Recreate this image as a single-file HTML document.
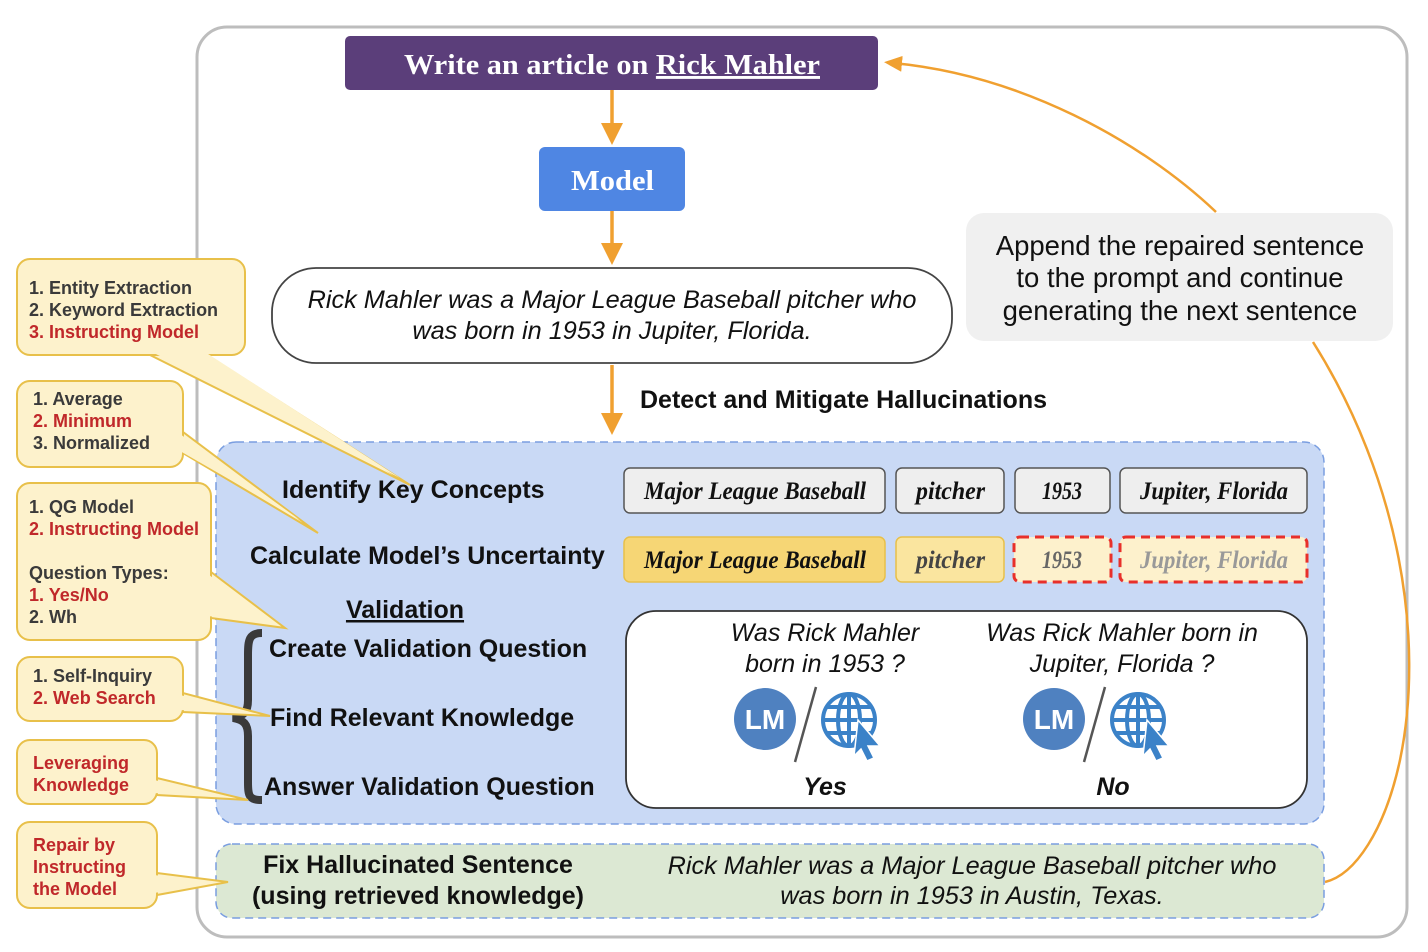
<!DOCTYPE html>
<html><head><meta charset="utf-8"><style>
html,body{margin:0;padding:0;background:#fff;}
svg{display:block;}
.s{font-family:"Liberation Sans",sans-serif;}
.sf{font-family:"Liberation Serif",serif;font-weight:bold;}
.c{font-family:"Liberation Sans",sans-serif;font-weight:bold;font-size:18px;fill:#3a3a3a;}
.r{fill:#c0282a;}
</style></head><body>
<svg width="1428" height="952" viewBox="0 0 1428 952" xmlns="http://www.w3.org/2000/svg">
<defs>
<marker id="ah" markerWidth="22" markerHeight="22" refX="11" refY="11" orient="auto" markerUnits="userSpaceOnUse"><path d="M0,0 L22,11 L0,22 z" fill="#f0a030"/></marker>
<marker id="ah2" markerWidth="18" markerHeight="16" refX="9" refY="8" orient="auto" markerUnits="userSpaceOnUse"><path d="M0,0 L18,8 L0,16 z" fill="#f0a030"/></marker>
</defs>
<rect x="197" y="27" width="1210" height="910" rx="30" fill="#fff" stroke="#bdbdbd" stroke-width="3"/>

<rect x="345" y="36" width="533" height="54" rx="5" fill="#5b3e7a"/>
<text x="404" y="74" class="sf" font-size="29" fill="#fff" textLength="416" lengthAdjust="spacingAndGlyphs">Write an article on <tspan text-decoration="underline">Rick Mahler</tspan></text>
<line x1="612" y1="90" x2="612" y2="134" stroke="#f0a030" stroke-width="3.5" marker-end="url(#ah)"/>

<rect x="539" y="147" width="146" height="64" rx="6" fill="#4f86e3"/>
<text x="571" y="190" class="sf" font-size="29" fill="#fff" textLength="83" lengthAdjust="spacingAndGlyphs">Model</text>
<line x1="612" y1="211" x2="612" y2="254" stroke="#f0a030" stroke-width="3.5" marker-end="url(#ah)"/>

<rect x="272" y="268" width="680" height="95" rx="44" fill="#fff" stroke="#444" stroke-width="1.8"/>
<text x="612" y="308" text-anchor="middle" class="s" font-size="25.3" font-style="italic" fill="#111">Rick Mahler was a Major League Baseball pitcher who</text>
<text x="612" y="339" text-anchor="middle" class="s" font-size="25.3" font-style="italic" fill="#111">was born in 1953 in Jupiter, Florida.</text>

<line x1="612" y1="365" x2="612" y2="424" stroke="#f0a030" stroke-width="3.5" marker-end="url(#ah)"/>
<text x="640" y="408" class="s" font-size="25" font-weight="bold" fill="#111">Detect and Mitigate Hallucinations</text>

<rect x="966" y="213" width="427" height="128" rx="18" fill="#f0f0f0"/>
<text x="1180" y="255" text-anchor="middle" class="s" font-size="27.5" fill="#111">Append the repaired sentence</text>
<text x="1180" y="287" text-anchor="middle" class="s" font-size="27.5" fill="#111">to the prompt and continue</text>
<text x="1180" y="320" text-anchor="middle" class="s" font-size="27.5" fill="#111">generating the next sentence</text>

<path d="M1216,212 C1140,140 1020,75 893,63" fill="none" stroke="#f0a030" stroke-width="2.5" marker-end="url(#ah2)"/>
<path d="M1313,342 C1400,480 1425,640 1400,760 C1385,830 1355,875 1325,882" fill="none" stroke="#f0a030" stroke-width="2.5"/>

<rect x="216" y="442" width="1108" height="382" rx="20" fill="#c9d9f5" stroke="#7a9ee0" stroke-width="1.5" stroke-dasharray="8,5"/>
<text x="282" y="498" class="s" font-size="25" font-weight="bold" fill="#111">Identify Key Concepts</text>
<text x="250" y="564" class="s" font-size="25" font-weight="bold" fill="#111">Calculate Model’s Uncertainty</text>
<text x="405" y="618" text-anchor="middle" class="s" font-size="25" font-weight="bold" fill="#111" text-decoration="underline">Validation</text>
<text x="269" y="657" class="s" font-size="25" font-weight="bold" fill="#111">Create Validation Question</text>
<text x="270" y="726" class="s" font-size="25" font-weight="bold" fill="#111">Find Relevant Knowledge</text>
<text x="264" y="795" class="s" font-size="25" font-weight="bold" fill="#111">Answer Validation Question</text>
<path d="M262,633 C249,633 248,640 248,655 L248,700 C248,712 244,716 233,718 C244,720 248,724 248,736 L248,782 C248,796 249,800 262,800" fill="none" stroke="#3a3a3a" stroke-width="8"/>

<g fill="#eeeeee" stroke="#555" stroke-width="1.5">
<rect x="624" y="468" width="261" height="45" rx="6"/>
<rect x="896" y="468" width="108" height="45" rx="6"/>
<rect x="1015" y="468" width="95" height="45" rx="6"/>
<rect x="1120" y="468" width="187" height="45" rx="6"/>
</g>
<g class="sf" font-size="25" font-style="italic" fill="#111" lengthAdjust="spacingAndGlyphs">
<text x="644" y="499" textLength="222" lengthAdjust="spacingAndGlyphs">Major League Baseball</text>
<text x="916" y="499" textLength="69" lengthAdjust="spacingAndGlyphs">pitcher</text>
<text x="1042" y="499" textLength="40" lengthAdjust="spacingAndGlyphs">1953</text>
<text x="1140" y="499" textLength="148" lengthAdjust="spacingAndGlyphs">Jupiter, Florida</text>
</g>
<rect x="624" y="537" width="261" height="45" rx="6" fill="#f6d675" stroke="#e8c04a" stroke-width="1.5"/>
<rect x="896" y="537" width="108" height="45" rx="6" fill="#fae59f" stroke="#e8c04a" stroke-width="1.5"/>
<rect x="1014" y="537" width="97" height="45" rx="6" fill="#fdf1cc" stroke="#e8302a" stroke-width="3" stroke-dasharray="9,6"/>
<rect x="1120" y="537" width="187" height="45" rx="6" fill="#fdf1cc" stroke="#e8302a" stroke-width="3" stroke-dasharray="9,6"/>
<g class="sf" font-size="25" font-style="italic">
<text x="644" y="568" fill="#111" textLength="222" lengthAdjust="spacingAndGlyphs">Major League Baseball</text>
<text x="916" y="568" fill="#444" textLength="69" lengthAdjust="spacingAndGlyphs">pitcher</text>
<text x="1042" y="568" fill="#666" textLength="40" lengthAdjust="spacingAndGlyphs">1953</text>
<text x="1140" y="568" fill="#999" textLength="148" lengthAdjust="spacingAndGlyphs">Jupiter, Florida</text>
</g>

<rect x="626" y="611" width="681" height="197" rx="30" fill="#fff" stroke="#333" stroke-width="1.8"/>
<g class="s" font-size="25" font-style="italic" fill="#111" text-anchor="middle">
<text x="825" y="641">Was Rick Mahler</text>
<text x="825" y="672">born in 1953 ?</text>
<text x="1122" y="641">Was Rick Mahler born in</text>
<text x="1122" y="672">Jupiter, Florida ?</text>
<text x="825" y="795" font-weight="bold">Yes</text>
<text x="1113" y="795" font-weight="bold">No</text>
</g>
<g id="ic1">
<circle cx="765" cy="719" r="31" fill="#4f81c0"/>
<text x="765" y="729" text-anchor="middle" class="s" font-size="28" font-weight="bold" fill="#fff">LM</text>
<line x1="816" y1="687" x2="795" y2="762" stroke="#555" stroke-width="2.5"/>
<g fill="none" stroke="#3b82c8" stroke-width="4">
<circle cx="849" cy="720" r="26"/>
<ellipse cx="849" cy="720" rx="11" ry="26"/>
<line x1="823" y1="720" x2="875" y2="720"/>
<line x1="827" y1="707" x2="871" y2="707"/>
<line x1="827" y1="733" x2="871" y2="733"/>
<line x1="849" y1="694" x2="849" y2="746"/>
</g>
<path d="M858,720 L880,746 L868,746 L874,758 L867,761 L861,749 L854,756 z" fill="#3b82c8" stroke="#fff" stroke-width="1.5"/>
</g>
<use href="#ic1" x="289" y="0"/>

<rect x="216" y="844" width="1108" height="74" rx="16" fill="#dce8d3" stroke="#7a9ee0" stroke-width="1.5" stroke-dasharray="8,5"/>
<text x="418" y="873" text-anchor="middle" class="s" font-size="25" font-weight="bold" fill="#111">Fix Hallucinated Sentence</text>
<text x="418" y="904" text-anchor="middle" class="s" font-size="25" font-weight="bold" fill="#111">(using retrieved knowledge)</text>
<text x="972" y="874" text-anchor="middle" class="s" font-size="25.3" font-style="italic" fill="#111">Rick Mahler was a Major League Baseball pitcher who</text>
<text x="972" y="904" text-anchor="middle" class="s" font-size="25.3" font-style="italic" fill="#111">was born in 1953 in Austin, Texas.</text>

<g fill="#fdf2cc" stroke="#e8c04a" stroke-width="2">
<polygon points="150,355 207,355 410,485"/>
<rect x="17" y="259" width="228" height="96" rx="13"/>
<polygon points="183,432 183,453 318,533"/>
<rect x="17" y="381" width="166" height="86" rx="13"/>
<polygon points="211,572 211,618 285,628"/>
<rect x="17" y="483" width="194" height="157" rx="13"/>
<polygon points="183,693 183,712 270,716"/>
<rect x="17" y="657" width="166" height="64" rx="13"/>
<polygon points="157,778 157,795 248,800"/>
<rect x="17" y="740" width="140" height="64" rx="13"/>
<polygon points="157,873 157,895 228,882"/>
<rect x="17" y="822" width="140" height="86" rx="13"/>
</g>
<g fill="#fdf2cc">
<polygon points="152,352 205,352 400,478"/>
<polygon points="180,434 180,451 300,520"/>
<polygon points="208,574 208,616 270,624"/>
<polygon points="180,695 180,710 255,714"/>
<polygon points="154,780 154,793 235,798"/>
<polygon points="154,875 154,893 215,883"/>
</g>
<g class="c">
<text x="29" y="294">1. Entity Extraction</text>
<text x="29" y="316">2. Keyword Extraction</text>
<text x="29" y="338" class="r">3. Instructing Model</text>
<text x="33" y="405">1. Average</text>
<text x="33" y="427" class="r">2. Minimum</text>
<text x="33" y="449">3. Normalized</text>
<text x="29" y="513">1. QG Model</text>
<text x="29" y="535" class="r">2. Instructing Model</text>
<text x="29" y="579">Question Types:</text>
<text x="29" y="601" class="r">1. Yes/No</text>
<text x="29" y="623">2. Wh</text>
<text x="33" y="682">1. Self-Inquiry</text>
<text x="33" y="704" class="r">2. Web Search</text>
<text x="33" y="769" class="r">Leveraging</text>
<text x="33" y="791" class="r">Knowledge</text>
<text x="33" y="851" class="r">Repair by</text>
<text x="33" y="873" class="r">Instructing</text>
<text x="33" y="895" class="r">the Model</text>
</g>
</svg>
</body></html>
